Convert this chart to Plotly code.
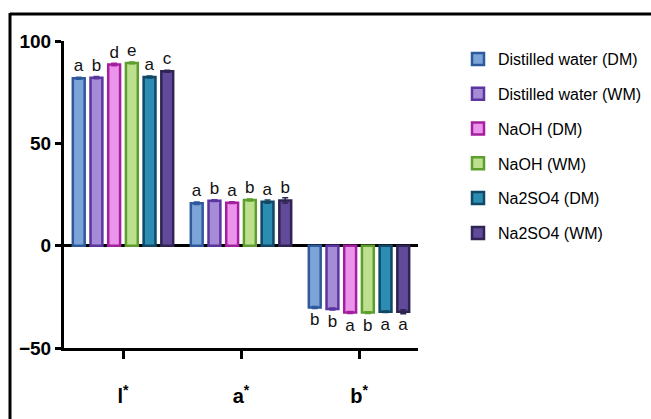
import plotly.graph_objects as go

categories = ["l*", "a*", "b*"]
tick_labels = ["l<sup>*</sup>", "a<sup>*</sup>", "b<sup>*</sup>"]
series_names = ["Distilled water (DM)", "Distilled water (WM)", "NaOH (DM)",
                "NaOH (WM)", "Na2SO4 (DM)", "Na2SO4 (WM)"]

dw_dm = [81.8, 20.7, -30.2]
dw_wm = [82.1, 22.0, -30.9]
naoh_dm = [88.5, 21.0, -32.7]
naoh_wm = [89.3, 22.3, -32.7]
na2so4_dm = [82.4, 21.5, -32.3]
na2so4_wm = [85.2, 22.1, -32.3]

dw_dm_err = [0.5, 0.6, 0.5]
dw_wm_err = [0.5, 0.4, 0.5]
naoh_dm_err = [0.6, 0.4, 0.5]
naoh_wm_err = [0.4, 0.5, 0.4]
na2so4_dm_err = [0.5, 0.8, 0.4]
na2so4_wm_err = [0.5, 1.3, 1.0]

dw_dm_sig = ["a", "a", "b"]
dw_wm_sig = ["b", "b", "b"]
naoh_dm_sig = ["d", "a", "a"]
naoh_wm_sig = ["e", "b", "b"]
na2so4_dm_sig = ["a", "a", "a"]
na2so4_wm_sig = ["c", "b", "a"]

values = [dw_dm, dw_wm, naoh_dm, naoh_wm, na2so4_dm, na2so4_wm]
errors = [dw_dm_err, dw_wm_err, naoh_dm_err, naoh_wm_err, na2so4_dm_err, na2so4_wm_err]
letters = [dw_dm_sig, dw_wm_sig, naoh_dm_sig, naoh_wm_sig, na2so4_dm_sig, na2so4_wm_sig]

fills = ["#7DA4D9", "#A68BD6", "#EC94EC", "#BCE08E", "#2B8DB2", "#604A99"]
lines = ["#2D5A9B", "#5B35A0", "#A4209F", "#5E9E2E", "#114866", "#2F2452"]

fig = go.Figure()
for i, name in enumerate(series_names):
    fig.add_trace(go.Bar(
        x=categories, y=values[i], name=name,
        marker=dict(color=fills[i], line=dict(color=lines[i], width=2.5)),
        error_y=dict(type="data", array=errors[i], color=lines[i],
                     thickness=1.5, width=3),
        text=letters[i], textposition="outside", cliponaxis=False,
        constraintext="none",
        textfont=dict(family="Arial", size=17, color="#111"),
        legendgroup=name,
    ))

L, R, T, B = 64, 233, 41, 71
W, H = 651, 419
pw, ph = W - L - R, H - T - B

def px_x(x):
    return (x - L) / pw

def px_y(y):
    return (H - B - y) / ph

fig.update_layout(
    width=W, height=H,
    margin=dict(l=L, r=R, t=T, b=B, pad=0, autoexpand=False),
    paper_bgcolor="white", plot_bgcolor="white",
    barmode="group", bargap=0.10, bargroupgap=0.33,
    font=dict(family="Arial", color="black"),
    showlegend=True,
    legend=dict(x=px_x(458), y=px_y(42), xanchor="left", yanchor="top",
                font=dict(size=16, family="Arial", color="black"),
                tracegroupgap=11, itemwidth=30, bgcolor="rgba(0,0,0,0)"),
    xaxis=dict(
        range=[-0.5, 2.5], tickmode="array", tickvals=categories, ticktext=tick_labels,
        showline=True, linecolor="black", linewidth=3,
        ticks="outside", ticklen=8, tickwidth=2.5, tickcolor="black",
        tickfont=dict(size=20, family="Arial", weight="bold", color="black"),
        ticklabelstandoff=20, showgrid=False, zeroline=False,
    ),
    yaxis=dict(
        range=[-50, 100], tickvals=[-50, 0, 50, 100],
        showline=True, linecolor="black", linewidth=3,
        ticks="outside", ticklen=6, tickwidth=2.5, tickcolor="black",
        tickfont=dict(size=19, family="Arial", weight="bold", color="black"),
        showgrid=False, zeroline=True, zerolinecolor="black", zerolinewidth=3,
    ),
    shapes=[
        dict(type="line", xref="paper", yref="paper",
             x0=px_x(10), x1=px_x(651), y0=px_y(14), y1=px_y(14),
             line=dict(color="black", width=3)),
        dict(type="line", xref="paper", yref="paper",
             x0=px_x(10), x1=px_x(10), y0=px_y(13), y1=px_y(419),
             line=dict(color="black", width=3)),
    ],
)

fig.write_html("out.html", config={"displayModeBar": False},
               post_script="document.body.style.margin='0';document.body.style.overflow='hidden';")
